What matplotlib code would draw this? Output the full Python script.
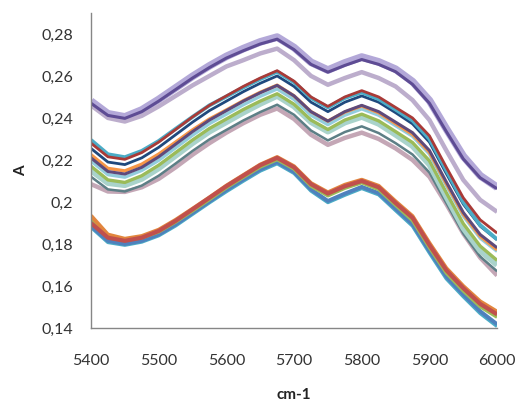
import numpy as np
import matplotlib
matplotlib.use("Agg")
from matplotlib import pyplot as plt

# wavenumbers (cm-1)
wn = [5400, 5425, 5450, 5475, 5500, 5525, 5550, 5575, 5600, 5625, 5650, 5675, 5700,
      5725, 5750, 5775, 5800, 5825, 5850, 5875, 5900, 5925, 5950, 5975, 6000]

# top group
top_lavender = [0.2480, 0.2420, 0.2405, 0.2438, 0.2488, 0.2543, 0.2598, 0.2648, 0.2693, 0.2730, 0.2762, 0.2785, 0.2735,
                0.2665, 0.2628, 0.2662, 0.2690, 0.2667, 0.2632, 0.2573, 0.2483, 0.2348, 0.2218, 0.2125, 0.2070]
top_purple = [0.2470, 0.2412, 0.2398, 0.2430, 0.2480, 0.2535, 0.2590, 0.2640, 0.2685, 0.2720, 0.2752, 0.2775, 0.2725,
              0.2655, 0.2618, 0.2650, 0.2678, 0.2655, 0.2620, 0.2560, 0.2470, 0.2335, 0.2205, 0.2115, 0.2063]
top_lilac = [0.2460, 0.2400, 0.2383, 0.2410, 0.2455, 0.2505, 0.2555, 0.2600, 0.2645, 0.2675, 0.2707, 0.2730, 0.2675,
             0.2600, 0.2558, 0.2590, 0.2618, 0.2590, 0.2550, 0.2485, 0.2390, 0.2245, 0.2105, 0.2010, 0.1953]

# middle group
mid_teal = [0.2295, 0.2227, 0.2213, 0.2243, 0.2290, 0.2348, 0.2405, 0.2460, 0.2502, 0.2545, 0.2585, 0.2620, 0.2570,
            0.2495, 0.2450, 0.2495, 0.2522, 0.2490, 0.2440, 0.2388, 0.2300, 0.2150, 0.2000, 0.1890, 0.1822]
mid_red = [0.2280, 0.2215, 0.2203, 0.2235, 0.2285, 0.2345, 0.2405, 0.2460, 0.2505, 0.2550, 0.2590, 0.2625, 0.2575,
           0.2500, 0.2455, 0.2500, 0.2530, 0.2500, 0.2450, 0.2400, 0.2315, 0.2165, 0.2020, 0.1915, 0.1852]
mid_navy = [0.2255, 0.2190, 0.2178, 0.2210, 0.2260, 0.2320, 0.2380, 0.2435, 0.2480, 0.2525, 0.2565, 0.2600, 0.2550,
            0.2475, 0.2430, 0.2475, 0.2505, 0.2475, 0.2425, 0.2372, 0.2285, 0.2135, 0.1990, 0.1885, 0.1820]
mid_orange = [0.2225, 0.2160, 0.2148, 0.2180, 0.2228, 0.2285, 0.2343, 0.2395, 0.2438, 0.2482, 0.2522, 0.2556, 0.2505,
              0.2430, 0.2385, 0.2428, 0.2457, 0.2425, 0.2373, 0.2322, 0.2237, 0.2087, 0.1942, 0.1837, 0.1772]
mid_purple = [0.2210, 0.2145, 0.2133, 0.2165, 0.2215, 0.2275, 0.2335, 0.2390, 0.2435, 0.2480, 0.2520, 0.2555, 0.2505,
              0.2430, 0.2385, 0.2430, 0.2460, 0.2430, 0.2380, 0.2330, 0.2245, 0.2095, 0.1950, 0.1845, 0.1782]
mid_sky = [0.2195, 0.2130, 0.2118, 0.2150, 0.2198, 0.2258, 0.2318, 0.2373, 0.2418, 0.2463, 0.2503, 0.2538, 0.2488,
           0.2413, 0.2368, 0.2413, 0.2443, 0.2413, 0.2363, 0.2313, 0.2228, 0.2078, 0.1933, 0.1828, 0.1765]
mid_green = [0.2170, 0.2105, 0.2093, 0.2125, 0.2175, 0.2235, 0.2295, 0.2350, 0.2395, 0.2440, 0.2480, 0.2515, 0.2465,
             0.2390, 0.2345, 0.2390, 0.2418, 0.2386, 0.2335, 0.2283, 0.2196, 0.2044, 0.1897, 0.1790, 0.1722]
mid_seafoam = [0.2150, 0.2090, 0.2080, 0.2110, 0.2160, 0.2220, 0.2280, 0.2335, 0.2380, 0.2425, 0.2467, 0.2505, 0.2455,
               0.2380, 0.2335, 0.2378, 0.2405, 0.2372, 0.2320, 0.2266, 0.2178, 0.2025, 0.1876, 0.1768, 0.1700]
mid_slate = [0.2120, 0.2060, 0.2050, 0.2078, 0.2125, 0.2183, 0.2243, 0.2298, 0.2343, 0.2388, 0.2428, 0.2463, 0.2415,
             0.2340, 0.2293, 0.2333, 0.2360, 0.2328, 0.2280, 0.2226, 0.2140, 0.1995, 0.1850, 0.1740, 0.1670]
mid_pink = [0.2085, 0.2050, 0.2048, 0.2070, 0.2110, 0.2165, 0.2225, 0.2280, 0.2330, 0.2375, 0.2415, 0.2445, 0.2395,
            0.2320, 0.2272, 0.2305, 0.2330, 0.2300, 0.2255, 0.2200, 0.2120, 0.1990, 0.1850, 0.1735, 0.1650]

# bottom group
low_orange = [0.1935, 0.1845, 0.1825, 0.1838, 0.1868, 0.1915, 0.1968, 0.2022, 0.2078, 0.2128, 0.2178, 0.2214, 0.2170,
              0.2090, 0.2046, 0.2082, 0.2106, 0.2077, 0.2003, 0.1933, 0.1805, 0.1685, 0.1600, 0.1527, 0.1478]
low_green = [0.1915, 0.1838, 0.1818, 0.1830, 0.1858, 0.1905, 0.1958, 0.2012, 0.2068, 0.2118, 0.2167, 0.2202, 0.2157,
             0.2076, 0.2030, 0.2066, 0.2092, 0.2060, 0.1985, 0.1912, 0.1783, 0.1662, 0.1577, 0.1502, 0.1452]
low_blue = [0.1885, 0.1815, 0.1800, 0.1815, 0.1845, 0.1893, 0.1948, 0.2003, 0.2057, 0.2107, 0.2155, 0.2190, 0.2143,
            0.2060, 0.2005, 0.2040, 0.2072, 0.2042, 0.1968, 0.1895, 0.1768, 0.1645, 0.1560, 0.1480, 0.1418]
low_teal = [0.1880, 0.1808, 0.1795, 0.1810, 0.1840, 0.1887, 0.1942, 0.1997, 0.2050, 0.2100, 0.2148, 0.2183, 0.2137,
            0.2053, 0.1998, 0.2033, 0.2065, 0.2035, 0.1960, 0.1886, 0.1758, 0.1635, 0.1550, 0.1470, 0.1408]
low_red = [0.1900, 0.1830, 0.1815, 0.1830, 0.1862, 0.1910, 0.1965, 0.2020, 0.2075, 0.2125, 0.2175, 0.2210, 0.2165,
           0.2085, 0.2040, 0.2075, 0.2100, 0.2070, 0.1995, 0.1925, 0.1795, 0.1675, 0.1590, 0.1515, 0.1465]

series = [
    (top_lavender, "#b3a8d8", 5.5),
    (top_lilac, "#bcadcc", 3.2),
    (top_purple, "#5e4c94", 2.2),
    (mid_pink, "#c4a7b6", 3.2),
    (mid_slate, "#5d7f86", 1.8),
    (mid_seafoam, "#a9d3cb", 4.2),
    (mid_green, "#9bbb59", 2.4),
    (mid_sky, "#93cddd", 2.4),
    (mid_orange, "#f79646", 2.4),
    (mid_purple, "#5f4a7b", 2.2),
    (mid_navy, "#1f497d", 2.0),
    (mid_teal, "#4bacc6", 2.8),
    (mid_red, "#a93a37", 2.0),
    (low_teal, "#4bacc6", 2.6),
    (low_blue, "#4f81bd", 2.8),
    (low_green, "#9bbb59", 2.6),
    (low_orange, "#e2863d", 2.8),
    (low_red, "#c0504d", 3.0),
]

plt.rcParams['font.family'] = ['Lato', 'DejaVu Sans']

fig = plt.figure(figsize=(5.2, 4.03), dpi=100)
ax = fig.add_axes([0.175, 0.186, 0.781, 0.782])

for vals, col, lw in series:
    ax.plot(wn, vals, color=col, linewidth=lw, solid_capstyle='butt', solid_joinstyle='round')

ax.set_xlim(5400, 6000)
ax.set_ylim(0.14, 0.29)
ax.set_xticks(np.arange(5400, 6001, 100))
yt = [0.14, 0.16, 0.18, 0.20, 0.22, 0.24, 0.26, 0.28]
ax.set_yticks(yt)
ax.set_yticklabels(["0,14", "0,16", "0,18", "0,2", "0,22", "0,24", "0,26", "0,28"])
ax.tick_params(axis='both', length=0, labelsize=11.5, colors='#333333')
ax.tick_params(axis='y', pad=13)
ax.tick_params(axis='x', pad=19)

for side in ['top', 'right']:
    ax.spines[side].set_visible(False)
for side in ['left', 'bottom']:
    ax.spines[side].set_color('#868686')
    ax.spines[side].set_linewidth(1.0)

ax.set_xlabel("cm-1", fontsize=11, fontweight='bold', labelpad=14, color='#222222')
ax.set_ylabel("A", fontsize=11, fontweight='bold', labelpad=9, color='#222222')

fig.savefig("out.png", dpi=100)
